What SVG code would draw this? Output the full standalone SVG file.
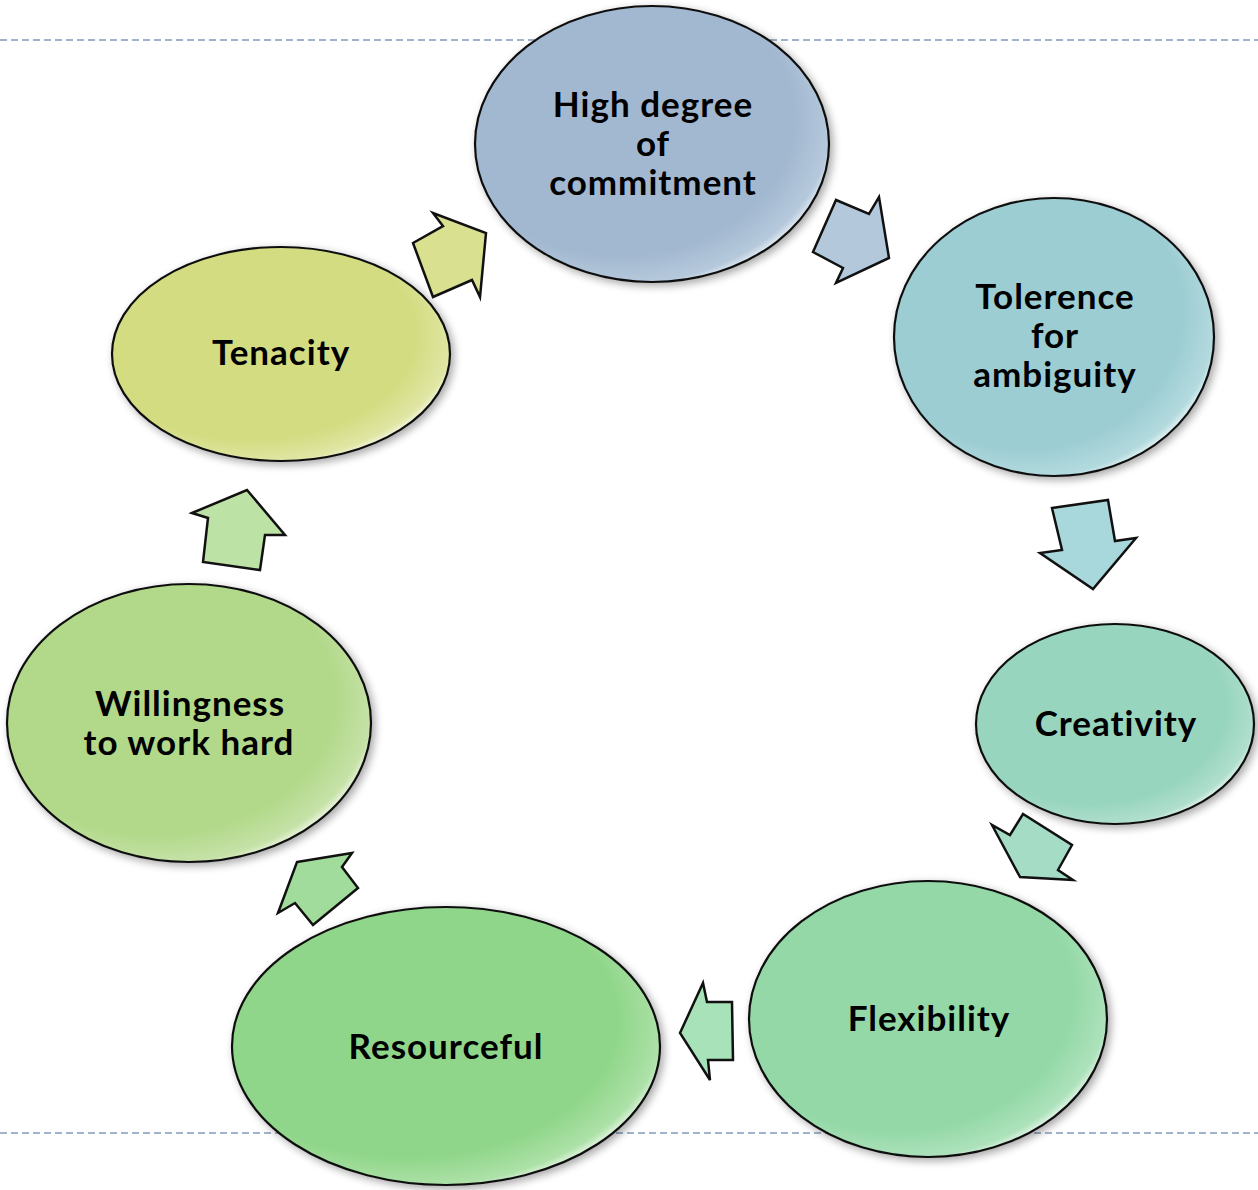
<svg xmlns="http://www.w3.org/2000/svg" width="1258" height="1190" viewBox="0 0 1258 1190">
<style>
.guide{stroke:#9fb4cc;stroke-width:2;stroke-dasharray:7 4;fill:none}
.node{stroke:#111;stroke-width:2.2;filter:url(#sh)}
.arr{stroke:#111;stroke-width:2.5;stroke-linejoin:miter}
.lbl{font-family:"Lato","Open Sans","Liberation Sans",sans-serif;font-weight:700;font-size:35px;letter-spacing:1px;fill:#000;text-anchor:middle}
</style>
<defs>
<filter id="sh" x="-10%" y="-10%" width="125%" height="125%">
<feGaussianBlur in="SourceAlpha" stdDeviation="4"/>
<feOffset dx="3" dy="3" result="b"/>
<feComponentTransfer><feFuncA type="linear" slope="0.35"/></feComponentTransfer>
<feMerge><feMergeNode/><feMergeNode in="SourceGraphic"/></feMerge>
</filter>
<radialGradient id="g1" cx="0.42" cy="0.42" r="0.62" fx="0.35" fy="0.35"><stop offset="0.8" stop-color="#a2b8d0"/><stop offset="0.95" stop-color="#b6c9dc"/><stop offset="1" stop-color="#eef3f8"/></radialGradient>
<radialGradient id="g2" cx="0.42" cy="0.42" r="0.62" fx="0.35" fy="0.35"><stop offset="0.8" stop-color="#9ccdd3"/><stop offset="0.95" stop-color="#b3dade"/><stop offset="1" stop-color="#eef8f8"/></radialGradient>
<radialGradient id="g3" cx="0.42" cy="0.42" r="0.62" fx="0.35" fy="0.35"><stop offset="0.8" stop-color="#98d5bf"/><stop offset="0.95" stop-color="#b0dfcd"/><stop offset="1" stop-color="#eef9f4"/></radialGradient>
<radialGradient id="g4" cx="0.42" cy="0.42" r="0.62" fx="0.35" fy="0.35"><stop offset="0.8" stop-color="#93d8a6"/><stop offset="0.95" stop-color="#ade2bb"/><stop offset="1" stop-color="#eef9f1"/></radialGradient>
<radialGradient id="g5" cx="0.42" cy="0.42" r="0.62" fx="0.35" fy="0.35"><stop offset="0.8" stop-color="#90d68a"/><stop offset="0.95" stop-color="#ade1a8"/><stop offset="1" stop-color="#eef9ed"/></radialGradient>
<radialGradient id="g6" cx="0.42" cy="0.42" r="0.62" fx="0.35" fy="0.35"><stop offset="0.8" stop-color="#b2d98a"/><stop offset="0.95" stop-color="#c6e2a8"/><stop offset="1" stop-color="#f3f9ec"/></radialGradient>
<radialGradient id="g7" cx="0.42" cy="0.42" r="0.62" fx="0.35" fy="0.35"><stop offset="0.8" stop-color="#d4dc82"/><stop offset="0.95" stop-color="#e0e6a4"/><stop offset="1" stop-color="#f8f9ea"/></radialGradient>
</defs>
<rect width="1258" height="1190" fill="#fff"/>
<line class="guide" x1="0" y1="40" x2="1258" y2="40"/>
<line class="guide" x1="0" y1="1133" x2="1258" y2="1133"/>

<g id="connectors">
<polygon class="arr" fill="#b4c8dc" points="813,252 836,200 869,214 879,197 889,258 836,283 843,268"/>
<polygon class="arr" fill="#a8d8dc" points="1052,508 1108,500 1115,541 1136,538 1093,589 1040,553 1062,550"/>
<polygon class="arr" fill="#a4dcc6" points="1020,877 992,825 1010,835 1023,814 1072,845 1058,870 1073,880"/>
<polygon class="arr" fill="#a8e2b8" points="680,1033 703,983 707,1002 732,1002 733,1060 708,1060 710,1080"/>
<polygon class="arr" fill="#a2dc9c" points="297,862 352,853 342,867 358,888 313,925 295,903 278,913"/>
<polygon class="arr" fill="#bce2a6" points="192,513 247,490 285,535 265,535 260,570 203,562 208,518"/>
<polygon class="arr" fill="#d9e08f" points="413,243 443,226 433,213 486,233 480,297 472,280 433,297"/>
</g>

<g id="n1"><ellipse class="node" cx="652" cy="144" rx="177" ry="138" fill="url(#g1)"/>
<text class="lbl" x="653" y="117">High degree</text><text class="lbl" x="653" y="156">of</text><text class="lbl" x="653" y="195">commitment</text></g>
<g id="n2"><ellipse class="node" cx="1054" cy="337" rx="160" ry="139" fill="url(#g2)"/>
<text class="lbl" x="1055" y="309">Tolerence</text><text class="lbl" x="1055" y="348">for</text><text class="lbl" x="1055" y="387">ambiguity</text></g>
<g id="n3"><ellipse class="node" cx="1115" cy="724" rx="139" ry="100" fill="url(#g3)"/>
<text class="lbl" x="1116" y="736">Creativity</text></g>
<g id="n4"><ellipse class="node" cx="928" cy="1019" rx="179" ry="138" fill="url(#g4)"/>
<text class="lbl" x="929" y="1031">Flexibility</text></g>
<g id="n5"><ellipse class="node" cx="446" cy="1046" rx="214" ry="139" fill="url(#g5)"/>
<text class="lbl" x="446" y="1059">Resourceful</text></g>
<g id="n6"><ellipse class="node" cx="189" cy="723" rx="182" ry="139" fill="url(#g6)"/>
<text class="lbl" x="190" y="716">Willingness</text><text class="lbl" x="189" y="755">to work hard</text></g>
<g id="n7"><ellipse class="node" cx="281" cy="354" rx="169" ry="107" fill="url(#g7)"/>
<text class="lbl" x="281" y="365">Tenacity</text></g>
</svg>
